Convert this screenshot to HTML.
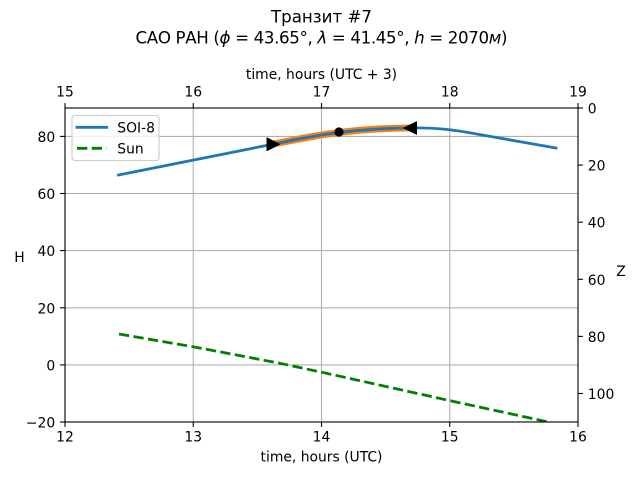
<!DOCTYPE html>
<html>
<head>
<meta charset="utf-8">
<style>
  html, body { margin: 0; padding: 0; background: #ffffff; }
  svg { display: block; }
  text { font-family: "DejaVu Sans", "Liberation Sans", sans-serif; fill: #000; }
</style>
</head>
<body>
<svg width="640" height="480" viewBox="0 0 640 480" xmlns="http://www.w3.org/2000/svg">
  <defs>
    <clipPath id="ax">
      <rect x="65" y="108" width="513" height="314"/>
    </clipPath>
  </defs>

  <!-- Title -->
  <text x="321.5" y="22.7" font-size="16.67" text-anchor="middle">Транзит #7</text>
  <text x="321.5" y="43.3" font-size="16.67" text-anchor="middle" textLength="372" lengthAdjust="spacing">САО РАН (<tspan font-style="italic">ϕ</tspan> = 43.65°, <tspan font-style="italic">λ</tspan> = 41.45°, <tspan font-style="italic">h</tspan> = 2070<tspan font-style="italic">м</tspan>)</text>

  <!-- Grid -->
  <g stroke="#b0b0b0" stroke-width="1.1" fill="none">
    <line x1="193.25" y1="108" x2="193.25" y2="422"/>
    <line x1="321.5" y1="108" x2="321.5" y2="422"/>
    <line x1="449.75" y1="108" x2="449.75" y2="422"/>
    <line x1="65" y1="136.4" x2="578" y2="136.4"/>
    <line x1="65" y1="193.5" x2="578" y2="193.5"/>
    <line x1="65" y1="250.6" x2="578" y2="250.6"/>
    <line x1="65" y1="307.8" x2="578" y2="307.8"/>
    <line x1="65" y1="364.9" x2="578" y2="364.9"/>
  </g>

  <!-- Data -->
  <g clip-path="url(#ax)" fill="none" stroke-linejoin="round">
    <!-- Sun -->
    <polyline points="119,334 193,346.7 280,363.3 322,372.3 450,400.7 547,421.7 556,423.8"
      stroke="#008000" stroke-width="2.78" stroke-dasharray="10.3,4.4"/>
    <!-- orange highlight -->
    <path d="M273,144 L300,138.8 C328,133.2 365,128.1 411,127.95"
      stroke="#ff7f0e" stroke-width="6.9" stroke-linecap="square"/>
    <!-- SOI-8 -->
    <path d="M118.5,175 L300,138.8 C330,132.8 370,128 415,127.9 C440,127.9 455,130 480,134.6 L556,148"
      stroke="#1f77b4" stroke-width="2.78" stroke-linecap="square"/>
    <!-- markers -->
    <polygon points="279.5,144.3 267,138 267,150.6" fill="#000" stroke="#000" stroke-width="1"/>
    <polygon points="404,128 416.5,121.8 416.5,134.2" fill="#000" stroke="#000" stroke-width="1"/>
    <circle cx="339" cy="132" r="4.6" fill="#000"/>
  </g>

  <!-- Spines -->
  <rect x="65" y="108" width="513" height="314" fill="none" stroke="#000" stroke-width="1.1"/>

  <!-- Ticks -->
  <g stroke="#000" stroke-width="1.1">
    <line x1="65" y1="422" x2="65" y2="426.9"/>
    <line x1="193.25" y1="422" x2="193.25" y2="426.9"/>
    <line x1="321.5" y1="422" x2="321.5" y2="426.9"/>
    <line x1="449.75" y1="422" x2="449.75" y2="426.9"/>
    <line x1="578" y1="422" x2="578" y2="426.9"/>
    <line x1="65" y1="108" x2="65" y2="103.1"/>
    <line x1="193.25" y1="108" x2="193.25" y2="103.1"/>
    <line x1="321.5" y1="108" x2="321.5" y2="103.1"/>
    <line x1="449.75" y1="108" x2="449.75" y2="103.1"/>
    <line x1="578" y1="108" x2="578" y2="103.1"/>
    <line x1="65" y1="136.4" x2="60.1" y2="136.4"/>
    <line x1="65" y1="193.5" x2="60.1" y2="193.5"/>
    <line x1="65" y1="250.6" x2="60.1" y2="250.6"/>
    <line x1="65" y1="307.8" x2="60.1" y2="307.8"/>
    <line x1="65" y1="364.9" x2="60.1" y2="364.9"/>
    <line x1="65" y1="422" x2="60.1" y2="422"/>
    <line x1="578" y1="108" x2="582.9" y2="108"/>
    <line x1="578" y1="165.1" x2="582.9" y2="165.1"/>
    <line x1="578" y1="222.2" x2="582.9" y2="222.2"/>
    <line x1="578" y1="279.3" x2="582.9" y2="279.3"/>
    <line x1="578" y1="336.4" x2="582.9" y2="336.4"/>
    <line x1="578" y1="393.5" x2="582.9" y2="393.5"/>
  </g>

  <!-- Tick labels -->
  <g font-size="13.89">
    <g text-anchor="middle">
      <text x="65" y="441.7">12</text>
      <text x="193.25" y="441.7">13</text>
      <text x="321.5" y="441.7">14</text>
      <text x="449.75" y="441.7">15</text>
      <text x="578" y="441.7">16</text>

      <text x="65" y="96.5">15</text>
      <text x="193.25" y="96.5">16</text>
      <text x="321.5" y="96.5">17</text>
      <text x="449.75" y="96.5">18</text>
      <text x="578" y="96.5">19</text>
    </g>
    <g text-anchor="end">
      <text x="55.2" y="141.9">80</text>
      <text x="55.2" y="199">60</text>
      <text x="55.2" y="256.1">40</text>
      <text x="55.2" y="313.3">20</text>
      <text x="55.2" y="370.4">0</text>
      <text x="55.2" y="427.5">−20</text>
    </g>
    <g text-anchor="start">
      <text x="587.8" y="113.5">0</text>
      <text x="587.8" y="170.6">20</text>
      <text x="587.8" y="227.7">40</text>
      <text x="587.8" y="284.8">60</text>
      <text x="587.8" y="341.9">80</text>
      <text x="587.8" y="399">100</text>
    </g>

    <!-- Axis labels -->
    <text x="321.5" y="461.5" text-anchor="middle">time, hours (UTC)</text>
    <text x="321.5" y="78.8" text-anchor="middle">time, hours (UTC + 3)</text>
    <text x="19.5" y="261.8" text-anchor="middle">H</text>
    <text x="621" y="276" text-anchor="middle">Z</text>
  </g>

  <!-- Legend -->
  <rect x="72" y="115.5" width="87" height="45" rx="2.8" ry="2.8" fill="#ffffff" fill-opacity="0.8" stroke="#cccccc" stroke-width="1.1"/>
  <line x1="77" y1="127.3" x2="106.7" y2="127.3" stroke="#1f77b4" stroke-width="2.78" stroke-linecap="square"/>
  <line x1="77" y1="148.3" x2="106.7" y2="148.3" stroke="#008000" stroke-width="2.78" stroke-dasharray="10.3,4.4"/>
  <text x="117.3" y="132.3" font-size="13.89">SOI-8</text>
  <text x="117.3" y="153.3" font-size="13.89">Sun</text>
</svg>
</body>
</html>
